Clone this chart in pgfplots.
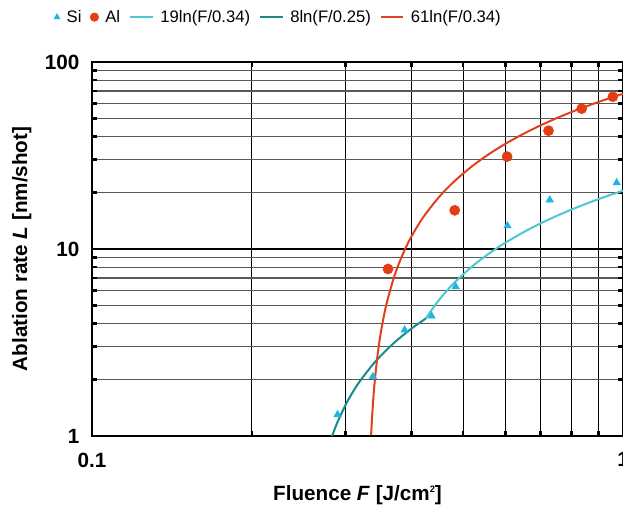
\documentclass[border=0pt]{standalone}
\usepackage{fontspec}
\setmainfont{Liberation Sans}
\usepackage{pgfplots}
\pgfplotsset{compat=1.18}
\usetikzlibrary{calc}

\definecolor{siblue}{HTML}{1EB4E6}
\definecolor{alred}{HTML}{E63C14}
\definecolor{fitcyan}{HTML}{4CC8D0}
\definecolor{fitteal}{HTML}{178A8A}
\definecolor{fitred}{HTML}{E0401E}

% legend symbol with a single mark only
\pgfplotsset{markentry/.style={legend image code/.code={\draw[##1] plot coordinates {(0cm,0cm)};}}}

\begin{document}
\begin{tikzpicture}
\begin{axis}[
  name=ax,
  scale only axis,
  width=398.25pt, height=280.5pt,
  xmode=log, ymode=log,
  xmin=0.1, xmax=1, ymin=1, ymax=100,
  xtick={0.1,1}, xticklabels={0.1,1},
  ytick={1,10,100}, yticklabels={1,10,100},
  ticklabel style={font=\bfseries\fontsize{15.5}{18}\selectfont},
  xticklabel style={yshift=-9pt},
  yticklabel style={xshift=-6pt},
  axis line style={line width=2.2pt},
  grid=both,
  major grid style={black, line width=2.2pt},
  minor x grid style={black, line width=0.75pt},
  minor y grid style={black!65, line width=0.9pt},
  tick align=inside,
  major tick length=0pt,
  minor tick length=3.5pt,
  every minor tick/.style={black, line width=2pt},
  every axis x label/.style={at={(axis description cs:0.5,-0.158)}, anchor=center},
  every axis y label/.style={at={(axis description cs:-0.132,0.5)}, rotate=90, anchor=center},
  label style={font=\bfseries\fontsize{15.5}{18}\selectfont},
  xlabel={Fluence \textit{F} [J/cm\raisebox{0.75ex}{\fontsize{7}{7}\selectfont 2}]},
  ylabel={Ablation rate \textit{L} [nm/shot]},
  legend columns=-1,
  legend style={draw=none, fill=none, at={(axis description cs:-0.072,1.12)}, anchor=west,
    font=\fontsize{12.5}{15}\selectfont, inner sep=0pt,
    /tikz/every odd column/.append style={column sep=3pt},
    /tikz/every even column/.append style={column sep=4.5pt}},
  clip=true,
]
% measured ablation rates
\addplot[only marks, mark=triangle*, mark size=3.2pt, color=siblue,
  markentry, legend image post style={mark size=2.6pt}]
  coordinates {(0.290,1.30) (0.338,2.08) (0.388,3.69) (0.436,4.38) (0.484,6.29)
               (0.606,13.3) (0.728,18.3) (0.973,22.6)};
\addlegendentry{Si}
\addplot[only marks, mark=*, mark size=3.8pt, color=alred,
  markentry, legend image post style={mark size=3.2pt}]
  coordinates {(0.361,7.82) (0.482,16.1) (0.605,31.2) (0.724,42.9) (0.836,56.3) (0.957,65.2)};
\addlegendentry{Al}
% logarithmic fits L = a ln(F/F_th), tabulated
\addplot[fitcyan, line width=1.5pt, smooth]
  coordinates {(0.4252,4.249) (0.45,5.326) (0.48,6.552) (0.52,8.073) (0.56,9.481)
               (0.60,10.792) (0.65,12.312) (0.70,13.721) (0.75,15.031) (0.80,16.258)
               (0.85,17.410) (0.90,18.496) (0.95,19.523) (1.00,20.497)};
\addlegendentry{19ln(F/0.34)}
\addplot[fitteal, line width=1.5pt, smooth]
  coordinates {(0.2833,1.000) (0.285,1.048) (0.29,1.187) (0.30,1.459) (0.31,1.721)
               (0.32,1.975) (0.34,2.460) (0.36,2.917) (0.38,3.350) (0.40,3.760)
               (0.4252,4.249)};
\addlegendentry{8ln(F/0.25)}
\addplot[fitred, line width=1.5pt, smooth]
  coordinates {(0.3355,1.008) (0.337,1.280) (0.34,1.821) (0.345,2.712) (0.35,3.589)
               (0.355,4.455) (0.36,5.308) (0.37,6.979) (0.38,8.606) (0.39,10.190)
               (0.40,11.735) (0.42,14.711) (0.45,18.919) (0.48,22.856) (0.52,27.739)
               (0.56,32.259) (0.60,36.468) (0.65,41.351) (0.70,45.871) (0.75,50.080)
               (0.80,54.017) (0.85,57.715) (0.90,61.201) (0.95,64.500) (1.00,67.628)};
\addlegendentry{61ln(F/0.34)}
\end{axis}
\pgfresetboundingbox
\path[use as bounding box] ($(ax.south west)+(-69pt,-56.25pt)$) rectangle ($(ax.north east)+(0pt,46.5pt)$);
\end{tikzpicture}
\end{document}
